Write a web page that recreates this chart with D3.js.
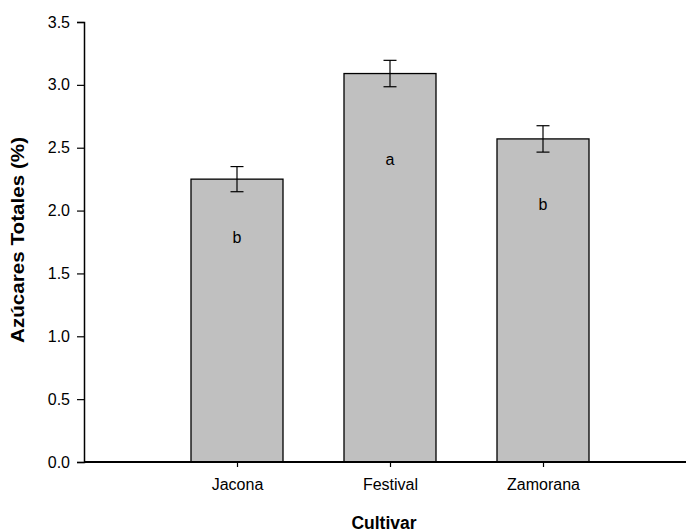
<!DOCTYPE html>
<html>
<head>
<meta charset="utf-8">
<script src="https://cdn.jsdelivr.net/npm/d3@7/dist/d3.min.js"></script>
<style>
  html, body { margin: 0; padding: 0; background: #fff; }
  svg { display: block; }
  text { font-family: Arial, "Liberation Sans", sans-serif; fill: #000; }
</style>
</head>
<body>
<svg id="chart" width="687" height="532"></svg>
<script>
// Total sugars by strawberry cultivar, mean ± error, with significance letters
const cultivars = ["Jacona", "Festival", "Zamorana"];
const sugarMeans = [2.25, 3.09, 2.57];
const sugarErrors = [0.10, 0.105, 0.105];
const groupLetters = ["b", "a", "b"];
const letterLevels = [1.79, 2.41, 2.05];
const yTicks = [0, 0.5, 1.0, 1.5, 2.0, 2.5, 3.0, 3.5];

const svg = d3.select("#chart");
const W = 687;
const FONT = "Arial, 'Liberation Sans', sans-serif";

const x = d3.scaleLinear().domain([0, 4]).range([84, 696]);
const y = d3.scaleLinear().domain([0, 3.5]).range([462, 22]);
const barW = 92;
const capW = 13;

// Bars
svg.append("g").selectAll("rect")
  .data(cultivars)
  .join("rect")
  .attr("x", (d, i) => x(i + 1) - barW / 2)
  .attr("y", (d, i) => y(sugarMeans[i]))
  .attr("width", barW)
  .attr("height", (d, i) => y(0) - y(sugarMeans[i]))
  .attr("fill", "#c0c0c0")
  .attr("stroke", "#000")
  .attr("stroke-width", 1.3);

// Error bars
const eb = svg.append("g").attr("stroke", "#000").attr("stroke-width", 1.2);
cultivars.forEach((c, i) => {
  const cx = x(i + 1);
  const hi = y(sugarMeans[i] + sugarErrors[i]);
  const lo = y(sugarMeans[i] - sugarErrors[i]);
  eb.append("line").attr("x1", cx).attr("x2", cx).attr("y1", hi).attr("y2", lo);
  eb.append("line").attr("x1", cx - capW / 2).attr("x2", cx + capW / 2).attr("y1", hi).attr("y2", hi);
  eb.append("line").attr("x1", cx - capW / 2).attr("x2", cx + capW / 2).attr("y1", lo).attr("y2", lo);
});

// Significance letters
svg.append("g").selectAll("text")
  .data(groupLetters)
  .join("text")
  .attr("x", (d, i) => x(i + 1))
  .attr("y", (d, i) => y(letterLevels[i]))
  .attr("dy", "0.35em")
  .attr("text-anchor", "middle")
  .attr("font-size", 16)
  .text(d => d);

// Y axis
const yAxis = svg.append("g")
  .attr("transform", `translate(${x(0)},0)`)
  .call(d3.axisLeft(y).tickValues(yTicks).tickFormat(d3.format(".1f")).tickSizeOuter(0).tickSize(7).tickPadding(7));
yAxis.select(".domain").attr("stroke-width", 1.5);
yAxis.selectAll(".tick line").attr("stroke-width", 1.2);
yAxis.selectAll("text").attr("font-size", 16).attr("font-family", FONT);

// X axis
const xAxis = svg.append("g")
  .attr("transform", `translate(0,${y(0)})`)
  .call(d3.axisBottom(x).tickValues([1, 2, 3]).tickFormat((d) => cultivars[d - 1]).tickSize(5).tickPadding(12).tickSizeOuter(0));
xAxis.select(".domain").attr("d", `M${x(0)},0H${W - 1}`).attr("stroke-width", 2);
xAxis.selectAll(".tick line").attr("stroke-width", 1.2);
xAxis.selectAll("text").attr("font-size", 16).attr("font-family", FONT);

// Axis titles
svg.append("text")
  .attr("x", 384).attr("y", 523)
  .attr("dy", "0.35em")
  .attr("text-anchor", "middle")
  .attr("font-size", 17.5).attr("font-weight", "bold")
  .text("Cultivar");

svg.append("text")
  .attr("transform", "translate(18,240) rotate(-90)")
  .attr("dy", "0.35em")
  .attr("text-anchor", "middle")
  .attr("font-size", 18).attr("font-weight", "bold")
  .attr("textLength", 206).attr("lengthAdjust", "spacingAndGlyphs")
  .text("Azúcares Totales (%)");
</script>
</body>
</html>
